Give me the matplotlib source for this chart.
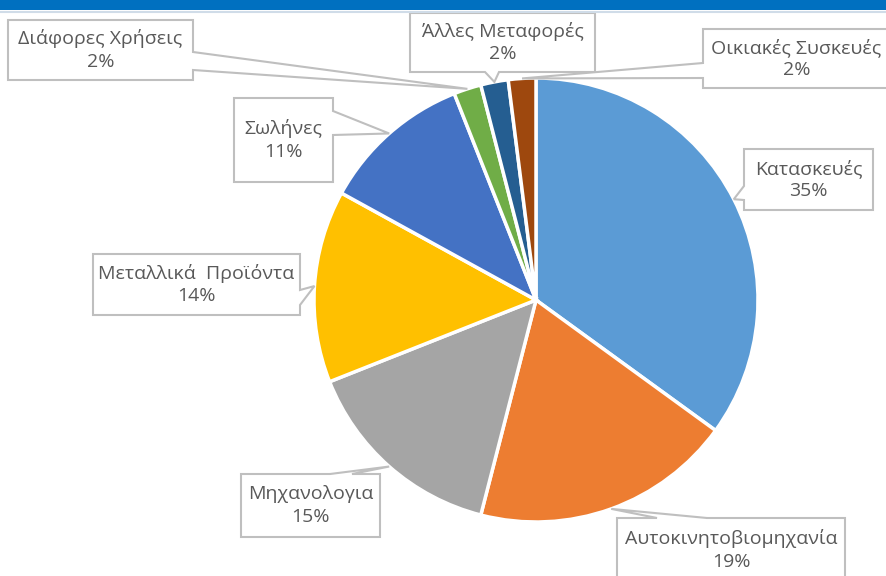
import matplotlib.pyplot as plt
from matplotlib.patches import Polygon, Rectangle
import numpy as np

plt.rcParams['font.family'] = ['Open Sans', 'DejaVu Sans']

# share of consumption by sector, clockwise from 12 o'clock
sectors = ['Κατασκευές', 'Αυτοκινητοβιομηχανία', 'Μηχανολογια', 'Μεταλλικά  Προϊόντα',
           'Σωλήνες', 'Διάφορες Χρήσεις', 'Άλλες Μεταφορές', 'Οικιακές Συσκευές']
shares = [35, 19, 15, 14, 11, 2, 2, 2]
colours = ['#5B9BD5', '#ED7D31', '#A5A5A5', '#FFC000',
           '#4472C4', '#70AD47', '#255E91', '#9E480E']

# callout boxes in pixel coords: (x0, y0, x1, y1), side of the pointer, pointer base
callouts = [
    ((744, 149, 873, 210), 'left', (186, 200)),
    ((617, 518, 845, 600), 'top', (657, 707)),
    ((241, 474, 380, 537), 'top', (330, 352)),
    ((93, 254, 300, 315), 'right', (290, 305)),
    ((234, 98, 333, 182), 'right', (111, 135)),
    ((8, 20, 193, 80), 'right', (52, 70)),
    ((410, 13, 595, 72), 'bottom', (485, 499)),
    ((703, 29, 890, 88), 'left', (63, 78)),
]

W, H = 886, 576
centre = (536, 300)
radius = 222

fig = plt.figure(figsize=(W / 100, H / 100), dpi=100)
ax = fig.add_axes([0, 0, 1, 1])

wedges, _ = ax.pie(shares, colors=colours, startangle=270, counterclock=True,
                   center=centre, radius=radius,
                   wedgeprops=dict(edgecolor='white', linewidth=2.5))

ax.set_xlim(0, W)
ax.set_ylim(H, 0)
ax.set_aspect('equal')
ax.axis('off')

# header strip
ax.add_patch(Rectangle((0, 0), W, 10, facecolor='#0070C0', edgecolor='none', zorder=5))
ax.plot([0, W], [11.5, 11.5], color='#D0DCE8', lw=1.5, zorder=5)


def callout_shape(rect, side, base, tip):
    x0, y0, x1, y1 = rect
    b0, b1 = base
    if side == 'top':
        return [(x0, y0), (b0, y0), tip, (b1, y0), (x1, y0), (x1, y1), (x0, y1)]
    if side == 'right':
        return [(x0, y0), (x1, y0), (x1, b0), tip, (x1, b1), (x1, y1), (x0, y1)]
    if side == 'bottom':
        return [(x0, y0), (x1, y0), (x1, y1), (b1, y1), tip, (b0, y1), (x0, y1)]
    return [(x0, y0), (x1, y0), (x1, y1), (x0, y1), (x0, b1), tip, (x0, b0)]


for w, name, val, (rect, side, base) in zip(wedges, sectors, shares, callouts):
    mid = np.deg2rad((w.theta1 + w.theta2) / 2)
    tip = (centre[0] + radius * np.cos(mid), centre[1] + radius * np.sin(mid))
    shape = Polygon(callout_shape(rect, side, base, tip), closed=True,
                    facecolor='white', edgecolor='#BFBFBF', lw=1.5, zorder=3)
    ax.add_patch(shape)
    x0, y0, x1, y1 = rect
    ty = (y0 + y1) / 2 if y1 <= 582 else y0 + 32
    ax.text((x0 + x1) / 2, ty, f'{name}\n{val}%', ha='center', va='center',
            fontsize=14, color='#595959', linespacing=1.3, zorder=4)

fig.savefig('out.png', dpi=100)
